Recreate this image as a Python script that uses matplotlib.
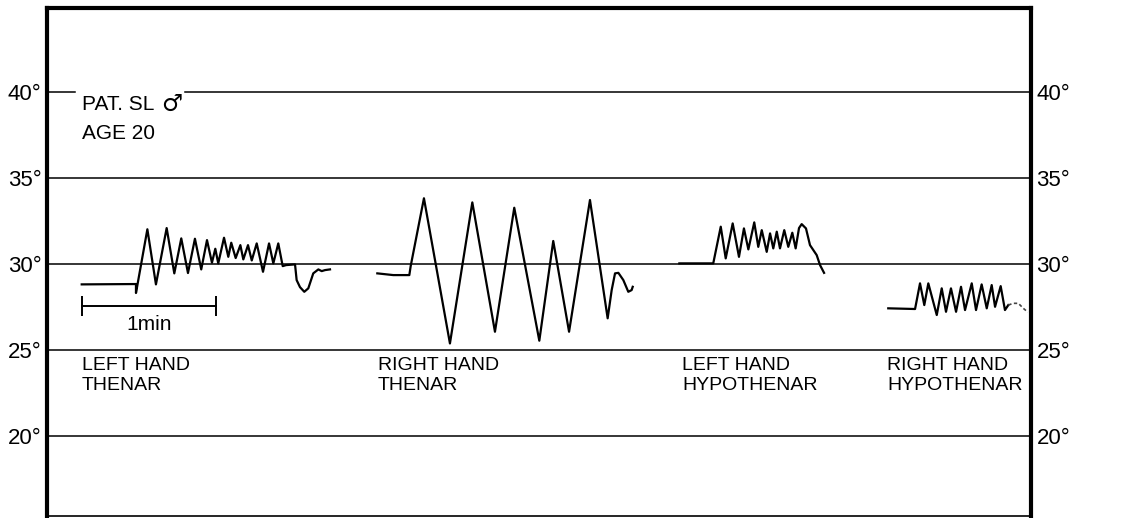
import numpy as np
import matplotlib
matplotlib.use("Agg")
import matplotlib.pyplot as plt

plt.rcParams['font.family'] = ['Liberation Sans', 'DejaVu Sans']

# time in minutes from the left edge of the chart, temperature in deg C
lh_thenar_t = [0.259, 0.664, 0.664, 0.749, 0.813, 0.893, 0.950, 1.002, 1.052, 1.104,
               1.151, 1.194, 1.231, 1.256, 1.278, 1.321, 1.353, 1.375, 1.408, 1.443,
               1.465, 1.500, 1.528, 1.565, 1.612, 1.657, 1.689, 1.726, 1.759, 1.784,
               1.851, 1.863, 1.888, 1.920, 1.950, 1.987, 2.025, 2.050, 2.075, 2.112]
lh_thenar_T = [28.82, 28.84, 28.32, 32.02, 28.82, 32.09, 29.46, 31.49, 29.48, 31.47,
               29.69, 31.39, 30.08, 30.89, 30.04, 31.53, 30.42, 31.24, 30.35, 31.10,
               30.27, 31.10, 30.21, 31.20, 29.55, 31.20, 30.04, 31.20, 29.88, 29.94,
               29.98, 29.07, 28.66, 28.39, 28.59, 29.46, 29.69, 29.59, 29.65, 29.69]

rh_thenar_t = [2.465, 2.584, 2.704, 2.714, 2.813, 3.007, 3.174, 3.343, 3.487, 3.674,
               3.778, 3.896, 4.052, 4.184, 4.214, 4.239, 4.264, 4.301, 4.338, 4.363, 4.371]
rh_thenar_T = [29.46, 29.36, 29.36, 29.88, 33.82, 25.39, 33.58, 26.07, 33.27, 25.55,
               31.34, 26.07, 33.72, 26.85, 28.49, 29.46, 29.49, 29.07, 28.39, 28.49, 28.68]

lh_hypo_t = [4.719, 4.972, 5.028, 5.065, 5.117, 5.164, 5.201, 5.234, 5.278, 5.308,
             5.334, 5.371, 5.396, 5.420, 5.446, 5.470, 5.502, 5.532, 5.562, 5.587,
             5.612, 5.632, 5.664, 5.694, 5.744, 5.769, 5.799]
lh_hypo_T = [30.04, 30.04, 32.17, 30.33, 32.36, 30.42, 32.07, 30.85, 32.42, 31.00,
             31.97, 30.71, 31.78, 30.91, 31.88, 30.91, 31.97, 31.00, 31.82, 30.91,
             32.09, 32.32, 32.07, 31.10, 30.52, 29.94, 29.49]

rh_hypo_t = [6.278, 6.478, 6.515, 6.547, 6.577, 6.640, 6.677, 6.709, 6.746, 6.784,
             6.821, 6.851, 6.901, 6.933, 6.975, 7.013, 7.050, 7.075, 7.117, 7.149, 7.174]
rh_hypo_T = [27.43, 27.39, 28.88, 27.62, 28.88, 27.04, 28.59, 27.23, 28.59, 27.23,
             28.68, 27.33, 28.88, 27.33, 28.82, 27.43, 28.78, 27.52, 28.72, 27.33, 27.62]
rh_hypo_tail_t = [7.174, 7.211, 7.249, 7.286, 7.320]
rh_hypo_tail_T = [27.62, 27.72, 27.72, 27.43, 27.20]

levels = [20, 25, 30, 35, 40]
level_labels = ['20°', '25°', '30°', '35°', '40°']

site_labels = ['LEFT HAND\nTHENAR', 'RIGHT HAND\nTHENAR',
               'LEFT HAND\nHYPOTHENAR', 'RIGHT HAND\nHYPOTHENAR']
site_label_t = [0.261, 2.470, 4.739, 6.269]

W, H = 1122, 518
x0, x1, ytop, ybot = 47, 1031, 8, 516
fig = plt.figure(figsize=(W / 100, H / 100), dpi=100)
ax = fig.add_axes([x0 / W, (H - ybot) / H, (x1 - x0) / W, (ybot - ytop) / H])
ax.set_xlim(0, (x1 - x0) / 134)
ax.set_ylim(15.37, 44.87)

for lv in levels:
    if lv == 40:
        # gap in the 40 deg line where the patient note sits
        ax.axhline(lv, xmax=(75 - x0) / (x1 - x0), color='black', lw=1.1, zorder=1)
        ax.axhline(lv, xmin=(185 - x0) / (x1 - x0), color='black', lw=1.1, zorder=1)
    else:
        ax.axhline(lv, color='black', lw=1.1, zorder=1)

lw = 1.6
ax.plot(lh_thenar_t, lh_thenar_T, color='black', lw=lw, zorder=3)
ax.plot(rh_thenar_t, rh_thenar_T, color='black', lw=lw, zorder=3)
ax.plot(lh_hypo_t, lh_hypo_T, color='black', lw=lw, zorder=3)
ax.plot(rh_hypo_t, rh_hypo_T, color='black', lw=lw, zorder=3)
ax.plot(rh_hypo_tail_t, rh_hypo_tail_T, color='#444444', lw=1.2, ls=(0, (2, 1.5)), zorder=3)

# 1 min scale bar
ax.plot([0.261, 1.261], [27.56, 27.56], color='black', lw=1.4, marker='|',
        ms=14, mew=1.4, zorder=3)
ax.text(0.761, 26.50, '1min', fontsize=15, ha='center', va='center')

ax.text(0.261, 39.25, 'PAT. SL', fontsize=15, ha='left', va='center', zorder=4)
ax.text(0.855, 39.30, '♂', fontsize=17, ha='left', va='center', zorder=4,
        family='DejaVu Sans')
ax.text(0.261, 37.58, 'AGE 20', fontsize=15, ha='left', va='center', zorder=4)

for lab, t in zip(site_labels, site_label_t):
    ax.text(t, 24.62, lab, fontsize=14, ha='left', va='top', linespacing=1.25)

ax.set_yticks(levels)
ax.set_yticklabels(level_labels, fontsize=16)
ax.tick_params(axis='y', length=0, pad=4, labelright=True)
ax.set_xticks([])

for side in ['left', 'right', 'top']:
    ax.spines[side].set_linewidth(3)
ax.spines['bottom'].set_linewidth(1.2)

fig.savefig('out.png', dpi=100)
